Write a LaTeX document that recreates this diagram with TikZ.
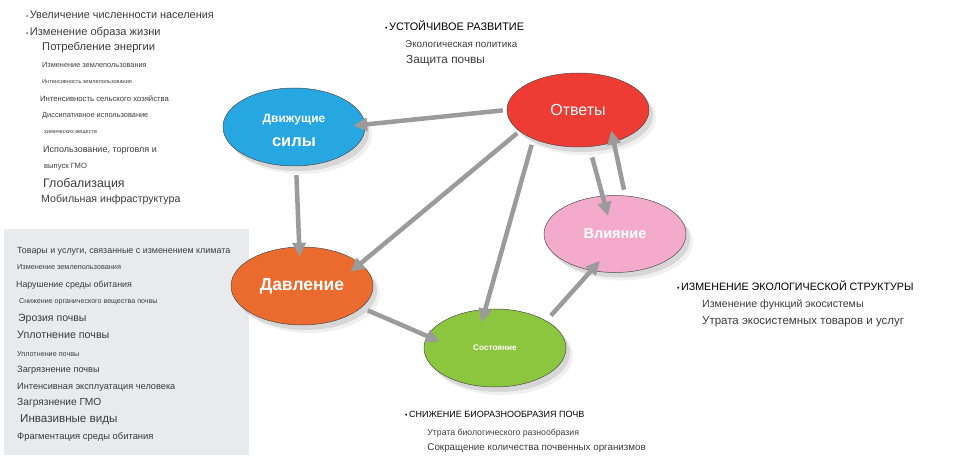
\documentclass[tikz,border=0pt]{standalone}
\usepackage{fontspec}
\setmainfont{Liberation Sans}
\usetikzlibrary{arrows.meta}
\usetikzlibrary{shapes.geometric}
\usetikzlibrary{shadows}
\definecolor{drivers}{HTML}{27A7E1}
\definecolor{responses}{HTML}{EE3B33}
\definecolor{impact}{HTML}{F4ABCB}
\definecolor{pressure}{HTML}{EB6B2F}
\definecolor{state}{HTML}{8CC63F}
\definecolor{link}{HTML}{9B9B9B}
\definecolor{panel}{HTML}{E9EAEC}
\definecolor{listtext}{HTML}{3C3C3C}
\newcommand{\setfs}[1]{\fontsize{#1}{#1}\selectfont}
\newcommand{\dotmark}[1]{{\setfs{#1}•}\kern1.5pt}

\begin{document}
\begin{tikzpicture}[x=1pt, y=-1pt]
            \tikzset{phase/.style={ellipse, draw=black!70, line width=0.5pt, inner sep=0pt,
                minimum width=142pt, minimum height=78pt, text=white, font={\bfseries},
                drop shadow={shadow xshift=7pt, shadow yshift=-8pt, opacity=0.12},
                drop shadow={shadow xshift=4pt, shadow yshift=-5pt, opacity=0.22}}};
            \tikzset{arrow/.style={-{Triangle[length=14pt, width=13pt]}, link, line width=4.5pt}};
            \tikzset{item/.style={anchor=west, inner sep=0pt, text=listtext}};
            \tikzset{head/.style={anchor=west, inner sep=0pt, text=black}};
            \useasboundingbox (0,0) rectangle (974,465);
            % Grey panel behind the pressures
            \fill[panel] (4,229) rectangle (249,455);
            % DPSIR phases
            \node[phase, fill=drivers] (ds) at (294,127) {\raisebox{-5pt}[\height][\depth]{\begin{tabular}{@{}c@{}}{\setfs{12}Движущие}\\[11pt]{\setfs{16.5}силы}\end{tabular}}};
            \node[phase, fill=responses, font={\setfs{16}}, minimum height=74pt] (otv) at (578,110) {Ответы};
            \node[phase, fill=impact, font={\setfs{14.5}\bfseries}, minimum height=77pt] (vl) at (615,234) {Влияние};
            \node[phase, fill=pressure, font={\setfs{17.5}\bfseries}] (dav) at (302,286) {Давление};
            \node[phase, fill=state, font={\setfs{8.2}\bfseries}] (sos) at (495,348) {Состояние};
            % Links
            \draw[arrow, shorten <=4pt, shorten >=-12pt] (otv.180) -- (ds.2);
            \draw[arrow, shorten <=9pt, shorten >=-10pt] (ds.-87) -- (dav.94);
            \draw[arrow, shorten <=3pt, shorten >=-13pt] (otv.200) -- (dav.21);
            \draw[arrow, shorten <=6pt, shorten >=-14pt] (otv.213) -- (sos.104);
            \draw[arrow, shorten <=11pt, shorten >=-21pt] (otv.-73) -- (vl.108);
            \draw[arrow, shorten <=6pt, shorten >=-12pt] (vl.75) -- (otv.-42);
            \draw[arrow, shorten <=7pt, shorten >=-14pt] (dav.-20) -- (sos.170);
            \draw[arrow, shorten <=7pt, shorten >=-13pt] (sos.28) -- (vl.-123);
            % Driving forces
            \node[item, font={\setfs{10.9}}] (dr1) at (26,15) {\dotmark{6}Увеличение численности населения};
            \node[item, font={\setfs{11.1}}] (dr2) at (26,33) {\dotmark{6}Изменение образа жизни};
            \node[item, font={\setfs{11.2}}] (dr3) at (42,48) {Потребление энергии};
            \node[item, font={\setfs{7.35}}] (dr4) at (42,65) {Изменение землепользования};
            \node[item, font={\setfs{5.6}}] (dr5) at (42,82) {Интенсивность землепользования};
            \node[item, font={\setfs{7.7}}] (dr6) at (40,99) {Интенсивность сельского хозяйства};
            \node[item, font={\setfs{7.4}}] (dr7) at (42,116) {Диссипативное использование};
            \node[item, font={\setfs{5.5}}] (dr8) at (44,133) {химических веществ};
            \node[item, font={\setfs{9}}] (dr9) at (43,150) {Использование, торговля и};
            \node[item, font={\setfs{7.6}}] (dr10) at (44,167) {выпуск ГМО};
            \node[item, font={\setfs{12.4}}] (dr11) at (43,184) {Глобализация};
            \node[item, font={\setfs{10.6}}] (dr12) at (41,200) {Мобильная инфраструктура};
            % Pressures
            \node[item, font={\setfs{8.9}}] (pr1) at (17,251) {Товары и услуги, связанные с изменением климата};
            \node[item, font={\setfs{7.3}}] (pr2) at (17,267) {Изменение землепользования};
            \node[item, font={\setfs{8.8}}] (pr3) at (16,285) {Нарушение среды обитания};
            \node[item, font={\setfs{7.1}}] (pr4) at (19,302) {Снижение органического вещества почвы};
            \node[item, font={\setfs{10.5}}] (pr5) at (18,319) {Эрозия почвы};
            \node[item, font={\setfs{10.7}}] (pr6) at (17,335) {Уплотнение почвы};
            \node[item, font={\setfs{7.2}}] (pr7) at (17,354) {Уплотнение почвы};
            \node[item, font={\setfs{9.2}}] (pr8) at (17,370) {Загрязнение почвы};
            \node[item, font={\setfs{9.2}}] (pr9) at (17,387) {Интенсивная эксплуатация человека};
            \node[item, font={\setfs{10.2}}] (pr10) at (17,403) {Загрязнение ГМО};
            \node[item, font={\setfs{11.6}}] (pr11) at (20,420) {Инвазивные виды};
            \node[item, font={\setfs{9.4}}] (pr12) at (17,437) {Фрагментация среды обитания};
            % Responses
            \node[head, font={\setfs{10.9}}] (rs1) at (385,26) {\dotmark{7}УСТОЙЧИВОЕ РАЗВИТИЕ};
            \node[item, font={\setfs{9.8}}] (rs2) at (405,44) {Экологическая политика};
            \node[item, font={\setfs{11.8}}] (rs3) at (406,61) {Защита почвы};
            % State
            \node[head, font={\setfs{9}}] (st1) at (405,414) {\dotmark{7}СНИЖЕНИЕ БИОРАЗНООБРАЗИЯ ПОЧВ};
            \node[item, font={\setfs{8.7}}] (st2) at (424,433) {{\color{black!25}\dotmark{5}}Утрата биологического разнообразия};
            \node[item, font={\setfs{9.8}}] (st3) at (424,448) {{\color{black!25}\dotmark{5}}Сокращение количества почвенных организмов};
            % Impact
            \node[head, font={\setfs{10.7}}] (im1) at (677,286) {\dotmark{7}ИЗМЕНЕНИЕ ЭКОЛОГИЧЕСКОЙ СТРУКТУРЫ};
            \node[item, font={\setfs{10.6}}] (im2) at (702,305) {Изменение функций экосистемы};
            \node[item, font={\setfs{11.5}}] (im3) at (702,322) {Утрата экосистемных товаров и услуг};
\end{tikzpicture}
\end{document}
